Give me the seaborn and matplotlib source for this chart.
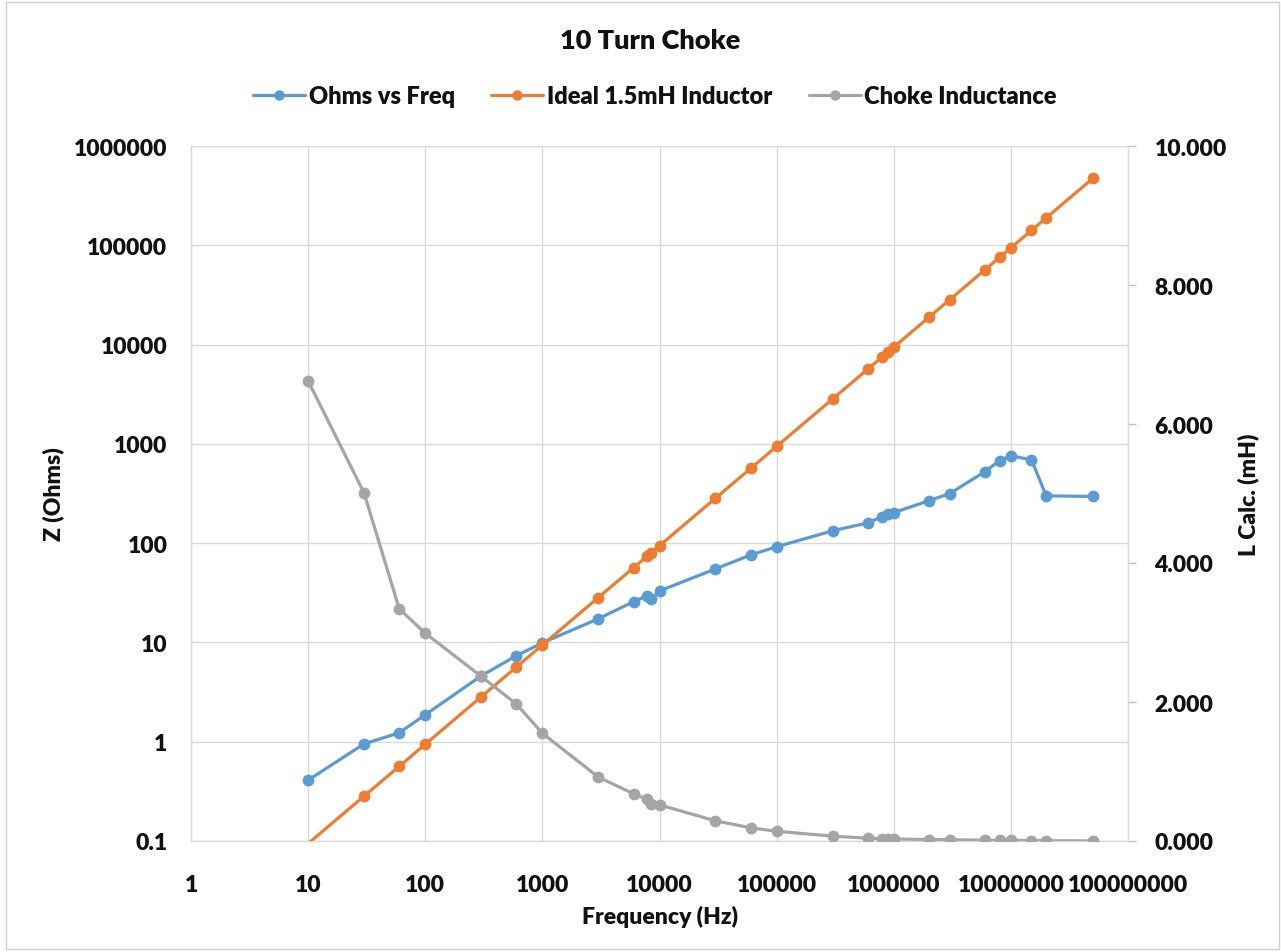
import matplotlib
matplotlib.use("Agg")
import matplotlib.pyplot as plt
import matplotlib.ticker as mticker
from matplotlib.lines import Line2D
from matplotlib.patches import Rectangle
import numpy as np
import pandas as pd
import seaborn as sns

# ---------------- data ----------------
freq_hz = [10, 30, 60, 100, 300, 600, 1000, 3000, 6000, 7800, 8500, 10000,
           30000, 60000, 100000, 300000, 600000, 800000, 900000, 1000000,
           2000000, 3000000, 6000000, 8000000, 10000000, 15000000, 20000000,
           50000000]
ohms_vs_freq = [0.41, 0.95, 1.23, 1.87, 4.6, 7.35, 9.9, 17.3, 25.7, 29.5, 27.2, 33,
                55, 76, 92, 133, 160, 185, 198, 203,
                268, 315, 525, 675, 760, 690, 300, 295]
ideal_inductor = [0.0942, 0.283, 0.565, 0.942, 2.83, 5.65, 9.42, 28.3, 56.5, 73.5, 80.1, 94.2,
                  283, 565, 942, 2827, 5655, 7540, 8482, 9425,
                  18850, 28274, 56549, 75398, 94248, 141372, 188496, 471239]
choke_inductance_mh = [6.62, 5.01, 3.34, 2.99, 2.37, 1.97, 1.55, 0.92, 0.68, 0.60, 0.53, 0.52,
                       0.29, 0.19, 0.14, 0.07, 0.04, 0.03, 0.03, 0.03,
                       0.02, 0.02, 0.01, 0.01, 0.01, 0.006, 0.004, 0.001]

x_ticks = [1, 10, 100, 1000, 10000, 100000, 1000000, 10000000, 100000000]
x_tick_labels = ["1", "10", "100", "1000", "10000", "100000", "1000000",
                 "10000000", "100000000"]
left_ticks = [0.1, 1, 10, 100, 1000, 10000, 100000, 1000000]
left_tick_labels = ["0.1", "1", "10", "100", "1000", "10000", "100000", "1000000"]
right_ticks = [0, 2, 4, 6, 8, 10]

series_names = ["Ohms vs Freq", "Ideal 1.5mH Inductor", "Choke Inductance"]
colors = ["#5B9BD5", "#ED7D31", "#A5A5A5"]

df = pd.DataFrame({"freq": freq_hz, "ohms": ohms_vs_freq,
                   "ideal": ideal_inductor, "choke": choke_inductance_mh})

# ---------------- style ----------------
sns.set_theme(style="white")
plt.rcParams["font.family"] = ["Lato", "DejaVu Sans"]
WEIGHT = "heavy"
plt.rcParams["font.weight"] = WEIGHT
TXT = "#111111"
GRID = "#D9D9D9"

W, H = 1281, 953
fig = plt.figure(figsize=(W / 100, H / 100), dpi=100)
fig.patch.set_facecolor("white")
fig.add_artist(Rectangle((6 / W, 3 / H), (1279 - 6) / W, (950 - 3) / H,
                         transform=fig.transFigure, fill=False,
                         edgecolor="#D0D0D0", linewidth=1.0))

L, R, T, B = 191, 1128, 147, 842
ax = fig.add_axes([L / W, 1 - B / H, (R - L) / W, (B - T) / H])
ax2 = ax.twinx()

lw = 2.3
ms = 8.5
sns.lineplot(data=df, x="freq", y="ohms", ax=ax, color=colors[0], lw=lw,
             marker="o", markersize=ms, markeredgewidth=0, zorder=3)
sns.lineplot(data=df, x="freq", y="ideal", ax=ax, color=colors[1], lw=lw,
             marker="o", markersize=ms, markeredgewidth=0, zorder=4,
             markevery=list(range(1, len(freq_hz))))
sns.lineplot(data=df, x="freq", y="choke", ax=ax2, color=colors[2], lw=lw,
             marker="o", markersize=ms, markeredgewidth=0, zorder=5)

ax.set_xscale("log")
ax.set_yscale("log")
ax.set_xlim(1, 1e8)
ax.set_ylim(0.1, 1e6)
ax2.set_ylim(0, 10)

ax.xaxis.set_major_locator(mticker.FixedLocator(x_ticks))
ax.xaxis.set_minor_locator(mticker.NullLocator())
ax.set_xticklabels(x_tick_labels)
ax.yaxis.set_major_locator(mticker.FixedLocator(left_ticks))
ax.yaxis.set_minor_locator(mticker.NullLocator())
ax.set_yticklabels(left_tick_labels)
ax2.yaxis.set_major_locator(mticker.FixedLocator(right_ticks))
ax2.yaxis.set_major_formatter(mticker.FuncFormatter(lambda v, p: f"{v:.3f}"))

ax.grid(True, which="major", color=GRID, linewidth=1.0)
ax.set_axisbelow(True)
ax2.grid(False)

for s in ["top", "right"]:
    ax.spines[s].set_visible(False)
for s in ["left", "bottom"]:
    ax.spines[s].set_color(GRID)
    ax.spines[s].set_linewidth(1.0)
for s in ["top", "left", "bottom"]:
    ax2.spines[s].set_visible(False)
ax2.spines["right"].set_color(GRID)
ax2.spines["right"].set_linewidth(1.0)

fs = 16.5
ax.tick_params(axis="x", length=0, pad=24, labelsize=fs, labelcolor=TXT)
ax.tick_params(axis="y", length=0, pad=17, labelsize=fs, labelcolor=TXT)
ax2.tick_params(axis="y", length=6, width=1, color="#BFBFBF", direction="out",
                pad=13, labelsize=fs, labelcolor=TXT)
for lab in ax.get_xticklabels() + ax.get_yticklabels() + ax2.get_yticklabels():
    lab.set_fontweight(WEIGHT)

ax.set_xlabel("Frequency (Hz)", fontsize=fs, fontweight=WEIGHT, color=TXT, labelpad=7)
ax.set_ylabel("Z (Ohms)", fontsize=fs, fontweight=WEIGHT, color=TXT, labelpad=7)
ax2.set_ylabel("L Calc. (mH)", fontsize=fs, fontweight=WEIGHT, color=TXT, labelpad=8)

fig.text(650 / W, 1 - 41 / H, "10 Turn Choke", ha="center", va="center",
         fontsize=19.5, fontweight=WEIGHT, color=TXT)

handles = [Line2D([], [], color=c, lw=lw, marker="o", markersize=ms - 1,
                  markeredgewidth=0) for c in colors]
fig.legend(handles, series_names, loc="center", bbox_to_anchor=(655 / W, 1 - 97 / H),
           ncol=3, frameon=False, prop={"size": 17, "weight": WEIGHT},
           handlelength=2.2, handletextpad=0.15, columnspacing=1.55,
           labelcolor=TXT)

fig.savefig("out.png", dpi=100, facecolor="white")
